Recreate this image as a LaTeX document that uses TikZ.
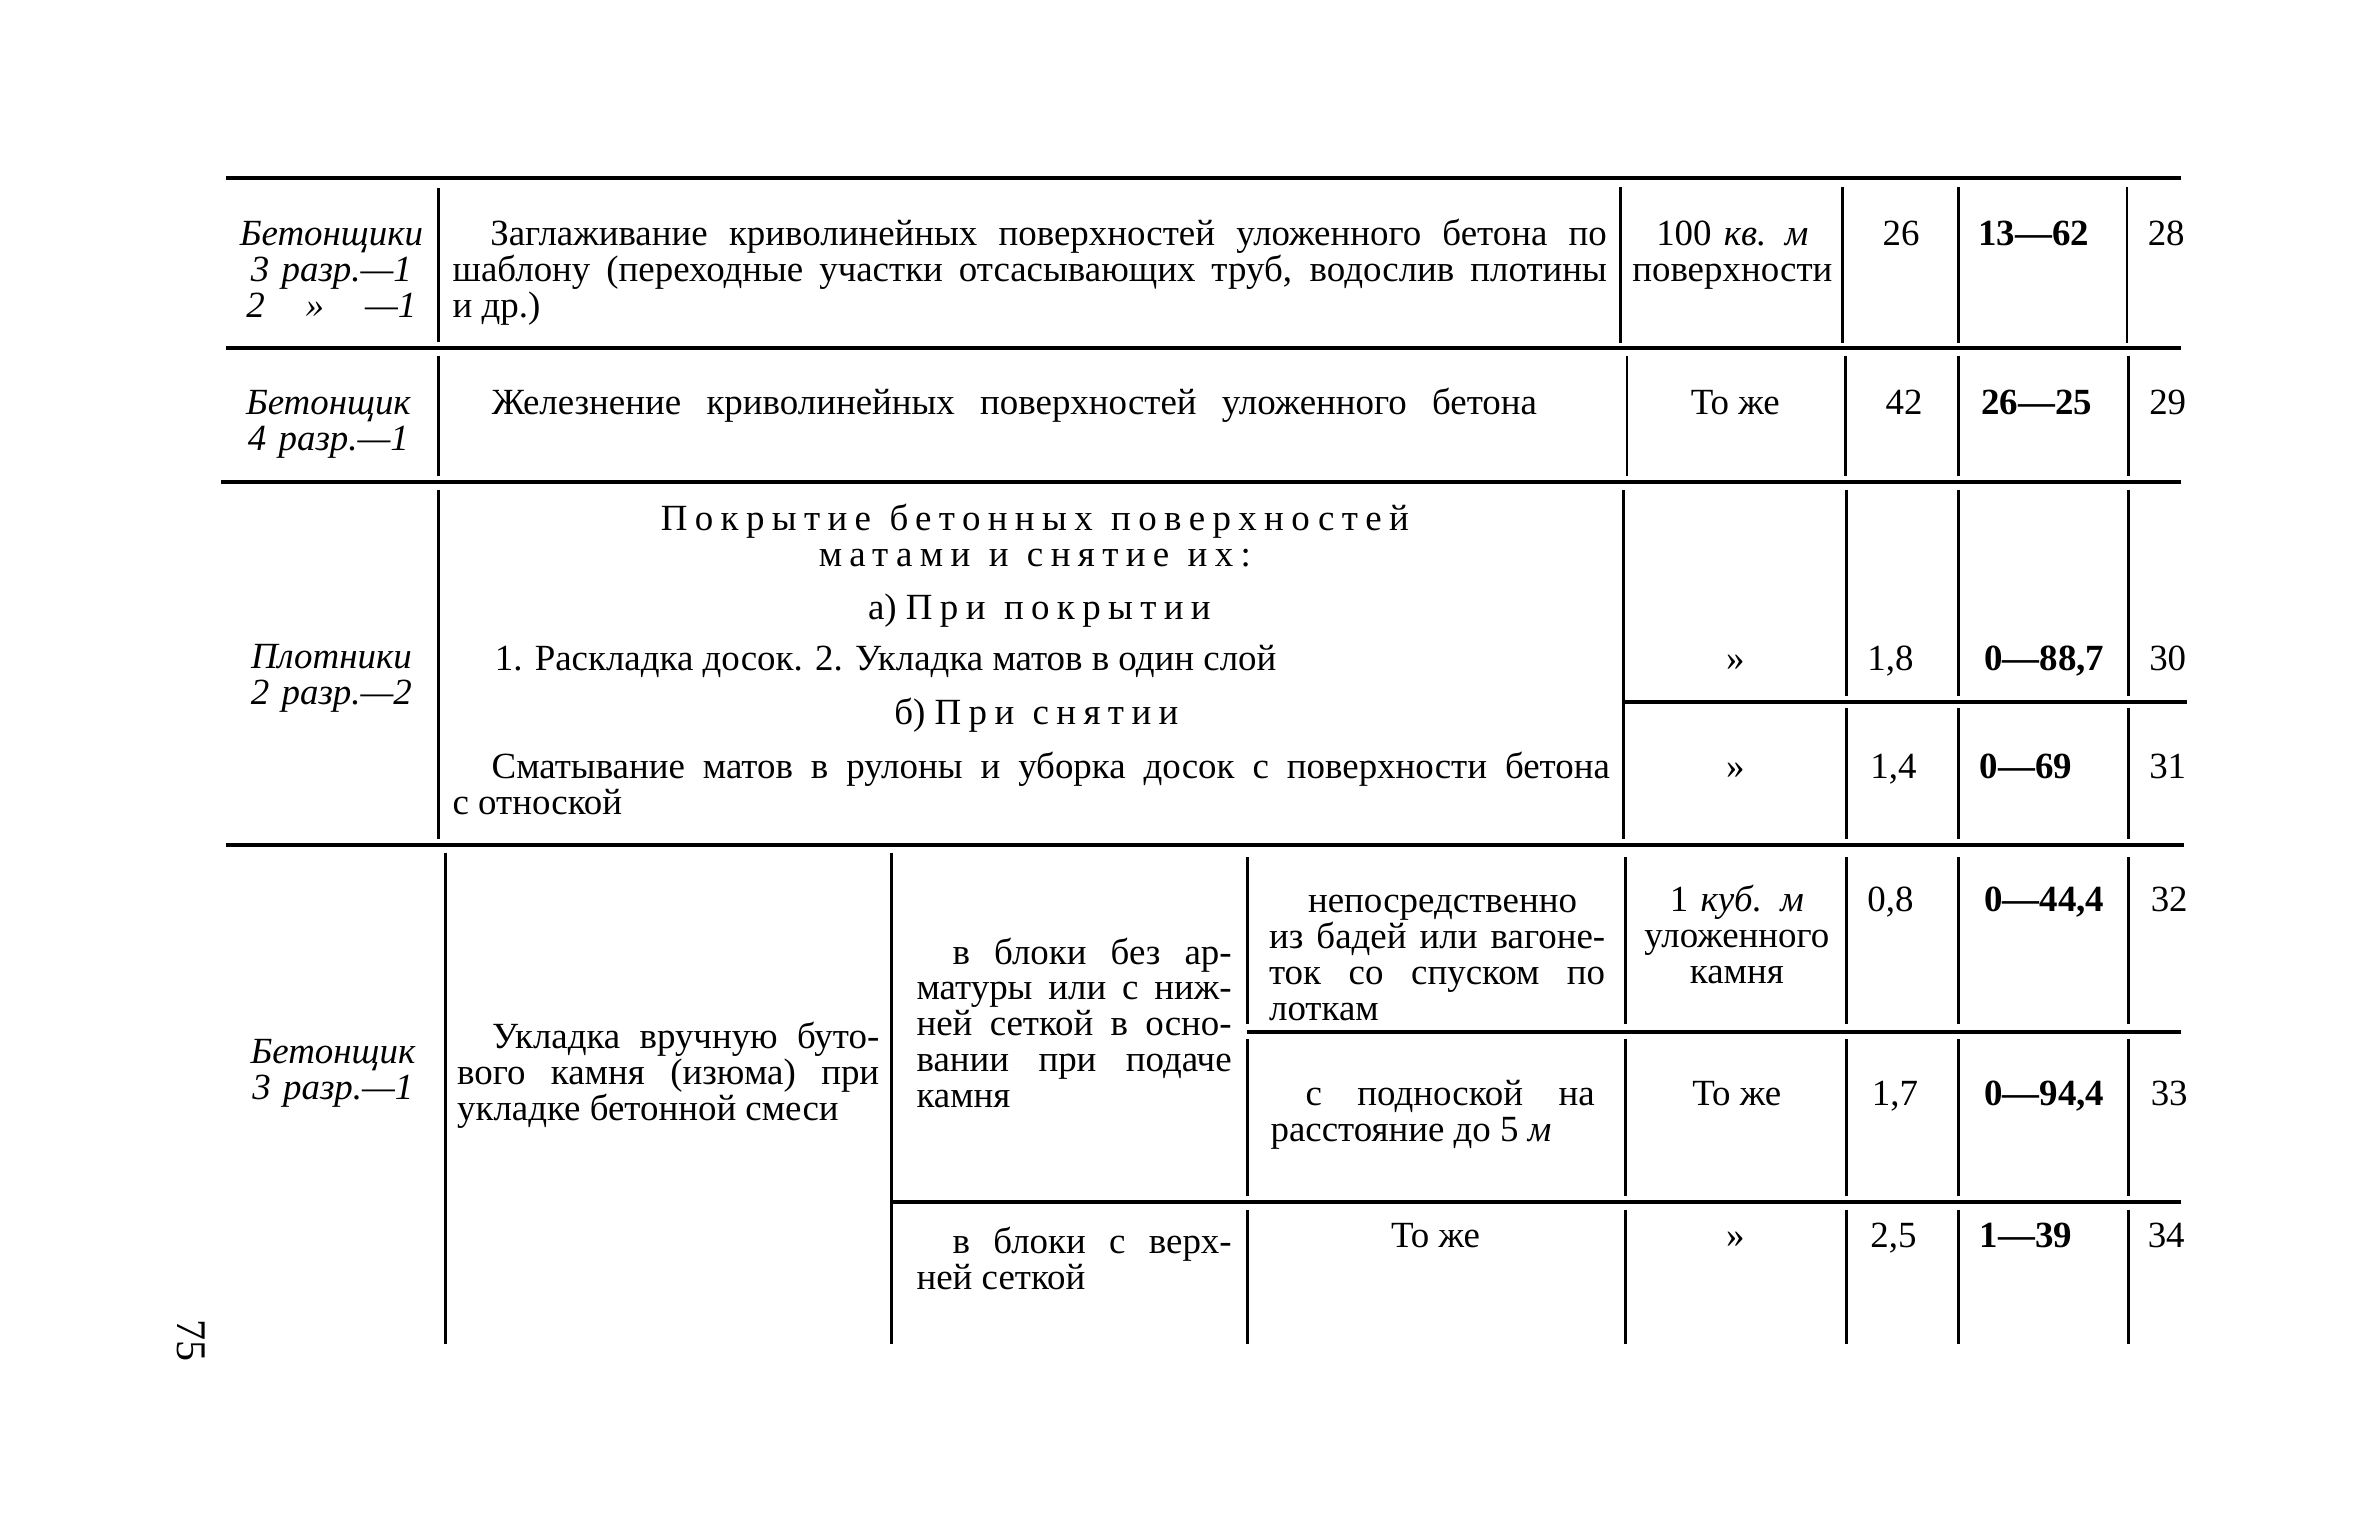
\documentclass[tikz,border=0pt]{standalone}
\usepackage{fontspec}
\setmainfont{Liberation Serif}
\newfontfamily\sparse[LetterSpace=20]{Liberation Serif}
\usepackage{tikz}
\newcommand{\hseg}[3]{\draw[hrule] ( #1 , #3 ) -- ( #2 , #3 );}
\newcommand{\vseg}[3]{\draw[vrule] ( #1 , #2 ) -- ( #1 , #3 );}
\newcommand{\gap}{\hspace{0.5em}}
\tikzset{
  hrule/.style={line width=1.1pt},
  vrule/.style={line width=0.8pt},
  txt/.style={inner sep=0pt, font=\fontsize{10.5}{10.2}\selectfont},
  crew/.style={txt, text width=2.4cm, align=center, anchor=base, font=\fontsize{10.5}{10.2}\selectfont\itshape},
  para/.style={txt, anchor=base west, align=justify},
  num/.style={txt, anchor=base, align=center},
  stack/.style={num, text width=3cm},
  price/.style={num, font=\fontsize{10.5}{10.2}\selectfont\bfseries},
}

\begin{document}
\begin{tikzpicture}[x=0.015064cm, y=-0.015064cm]
        \useasboundingbox (0,0) rectangle (1568,1019);
        % rules
        \hseg{150}{1448}{118}
        \hseg{150}{1448}{231}
        \hseg{147}{1448}{320}
        \hseg{1078}{1452}{466}
        \hseg{150}{1450}{561}
        \hseg{828}{1448}{685}
        \hseg{592}{1448}{798}
        % row1
        \vseg{291}{125}{227}
        \vseg{1076}{124}{228}
        \vseg{1223}{124}{228}
        \vseg{1300}{124}{228}
        \vseg{1412}{124}{228}
        \node[crew] (crew1) at (220,163) {Бетонщики\\3 разр.—1\\\makebox[1.7cm]{2\hfill»\hfill—1}};
        \node[para, text width=11.54cm] (smooth) at (300,163)
          {\hspace*{0.377cm}Заглаживание криволинейных поверхностей уложенного бетона по\linebreak
           шаблону (переходные участки отсасывающих труб, водослив плотины\linebreak и др.)};
        \node[stack] (unit1) at (1150,163) {100 {\itshape кв. м}\\поверхности};
        \node[num] (rate1) at (1262,163) {26};
        \node[price] (cost1) at (1350,163) {13—62};
        \node[num] (no1) at (1438,163) {28};
        % row2
        \vseg{291}{236}{316}
        \vseg{1080}{236}{316}
        \vseg{1225}{236}{316}
        \vseg{1300}{236}{316}
        \vseg{1413}{236}{316}
        \node[crew] (crew2) at (218,275) {Бетонщик\\4 разр.—1};
        \node[txt, anchor=base west] (iron) at (326,275)
          {\makebox[10.45cm][s]{Железнение криволинейных поверхностей уложенного бетона}};
        \node[num] (unit2) at (1152,275) {То же};
        \node[num] (rate2) at (1264,275) {42};
        \node[price] (cost2) at (1352,275) {26—25};
        \node[num] (no2) at (1439,275) {29};
        % row3
        \vseg{291}{325}{557}
        \vseg{1078}{325}{557}
        \vseg{1226}{325}{462}
        \vseg{1300}{325}{462}
        \vseg{1413}{325}{462}
        \vseg{1226}{470}{557}
        \vseg{1300}{470}{557}
        \vseg{1413}{470}{557}
        \node[crew] (crew3) at (220,444) {Плотники\\2 разр.—2};
        \node[stack, text width=11cm] (cover) at (687,352)
          {{\sparse Покрытие\gap бетонных\gap поверхностей}\\{\sparse матами\gap и\gap снятие\gap их:}};
        \node[num] (suba) at (690,411) {а) {\sparse При\gap покрытии}};
        \node[txt, anchor=base west] (lay1) at (328,445) {1. Раскладка досок. 2. Укладка матов в один слой};
        \node[num] (subb) at (688,481) {б) {\sparse При\gap снятии}};
        \node[para, text width=11.57cm] (roll) at (300,517)
          {\hspace*{0.39cm}Сматывание матов в рулоны и уборка досок с поверхности бетона\linebreak с отноской};
        \node[num] (unit3) at (1152,445) {»};
        \node[num] (rate3) at (1255,445) {1,8};
        \node[price] (cost3) at (1357,445) {0—88,7};
        \node[num] (no3) at (1439,445) {30};
        \node[num] (unit4) at (1152,517) {»};
        \node[num] (rate4) at (1257,517) {1,4};
        \node[price] (cost4) at (1345,517) {0—69};
        \node[num] (no4) at (1439,517) {31};
        % row4
        \vseg{296}{566}{892}
        \vseg{592}{566}{892}
        \foreach \x in {828,1079,1226,1300,1413} {
          \vseg{\x}{569}{680}
          \vseg{\x}{690}{794}
          \vseg{\x}{803}{892}
        }
        \node[crew] (crew4) at (221,706) {Бетонщик\\3 разр.—1};
        \node[para, text width=4.22cm] (stone) at (303,696)
          {\hspace*{0.35cm}Укладка вручную буто-\linebreak вого камня (изюма) при\linebreak укладке бетонной смеси};
        \node[para, text width=3.15cm] (blka) at (608,640)
          {\hspace*{0.36cm}в блоки без ар-\linebreak матуры или с ниж-\linebreak ней сеткой в осно-\linebreak вании при подаче\linebreak камня};
        \node[para, text width=3.36cm] (direct) at (842,606)
          {\hspace*{0.39cm}непосредственно\linebreak из бадей или вагоне-\linebreak ток со спуском по\linebreak лоткам};
        \node[stack] (unit5) at (1153,605) {1 {\itshape куб. м}\\уложенного\\камня};
        \node[num] (rate5) at (1255,605) {0,8};
        \node[price] (cost5) at (1357,605) {0—44,4};
        \node[num] (no5) at (1440,605) {32};
        \node[para, text width=3.24cm] (carry) at (843,734)
          {\hspace*{0.35cm}с подноской на\linebreak расстояние до 5 {\itshape м}};
        \node[num] (unit6) at (1153,734) {То же};
        \node[num] (rate6) at (1258,734) {1,7};
        \node[price] (cost6) at (1357,734) {0—94,4};
        \node[num] (no6) at (1440,734) {33};
        \node[para, text width=3.15cm] (blkb) at (608,832)
          {\hspace*{0.36cm}в блоки с верх-\linebreak ней сеткой};
        \node[num] (same7) at (953,828) {То же};
        \node[num] (unit7) at (1152,828) {»};
        \node[num] (rate7) at (1257,828) {2,5};
        \node[price] (cost7) at (1345,828) {1—39};
        \node[num] (no7) at (1438,828) {34};
        % page
        \node[txt, rotate=-90, font=\fontsize{12}{12}\selectfont] (pagenum) at (127,890) {75};
\end{tikzpicture}
\end{document}
